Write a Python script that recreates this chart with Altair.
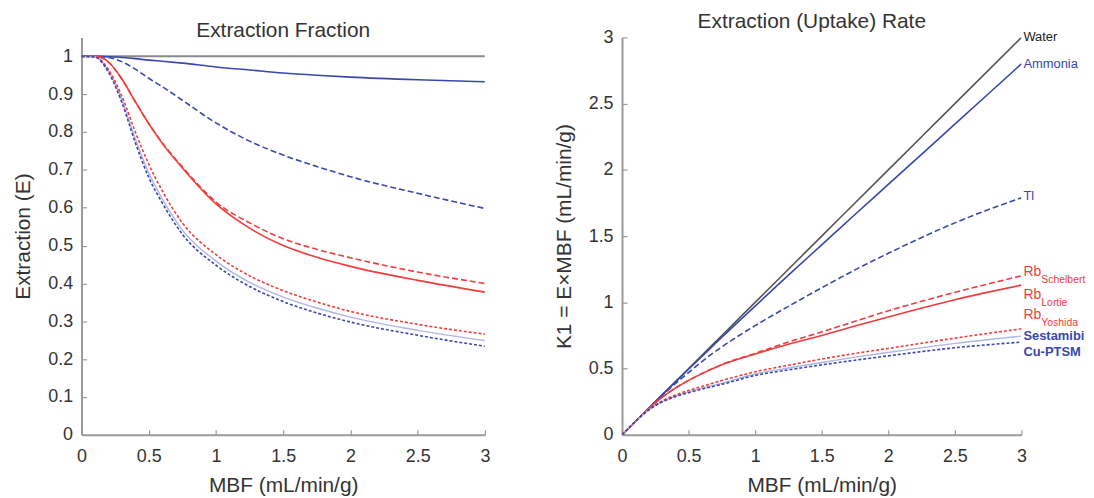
import altair as alt
import pandas as pd

# ---------------- data ----------------
MBF = [0, 0.1, 0.2, 0.3, 0.4, 0.5, 0.6, 0.75, 1.0, 1.25, 1.5, 1.75, 2.0, 2.5, 3.0]

# Extraction fraction E (left panel)
E_water = [1.0, 1.0, 1.0, 1.0, 1.0, 1.0, 1.0, 1.0, 1.0, 1.0, 1.0, 1.0, 1.0, 1.0, 1.0]
E_ammonia = [1.0, 1.0, 0.999, 0.997, 0.994, 0.99, 0.987, 0.982, 0.972, 0.964, 0.956, 0.95, 0.945, 0.938, 0.933]
E_tl = [1.0, 1.0, 0.997, 0.986, 0.966, 0.942, 0.92, 0.884, 0.824, 0.776, 0.739, 0.709, 0.682, 0.638, 0.598]
E_schelbert = [1.0, 1.0, 0.985, 0.94, 0.88, 0.822, 0.772, 0.708, 0.615, 0.56, 0.518, 0.49, 0.468, 0.43, 0.40]
E_lortie = [1.0, 1.0, 0.985, 0.94, 0.88, 0.822, 0.77, 0.705, 0.61, 0.546, 0.5, 0.469, 0.445, 0.408, 0.377]
E_yoshida = [1.0, 0.999, 0.965, 0.895, 0.80, 0.715, 0.645, 0.56, 0.476, 0.42, 0.381, 0.351, 0.326, 0.292, 0.266]
E_sestamibi = [1.0, 0.999, 0.962, 0.885, 0.782, 0.692, 0.624, 0.541, 0.459, 0.403, 0.364, 0.335, 0.311, 0.276, 0.249]
E_cuptsm = [1.0, 0.998, 0.958, 0.878, 0.772, 0.68, 0.613, 0.53, 0.448, 0.392, 0.352, 0.322, 0.298, 0.263, 0.234]

# Uptake rate K1 (right panel)
K_water = [0, 0.1, 0.2, 0.3, 0.4, 0.5, 0.6, 0.75, 1.0, 1.25, 1.5, 1.75, 2.0, 2.5, 3.0]
K_ammonia = [0, 0.1, 0.2, 0.3, 0.398, 0.495, 0.592, 0.737, 0.972, 1.205, 1.434, 1.663, 1.89, 2.345, 2.8]
K_tl = [0, 0.1, 0.199, 0.296, 0.386, 0.47, 0.553, 0.664, 0.824, 0.97, 1.11, 1.245, 1.37, 1.6, 1.79]
K_schelbert = [0, 0.1, 0.197, 0.282, 0.352, 0.411, 0.463, 0.531, 0.615, 0.7, 0.777, 0.857, 0.936, 1.075, 1.2]
K_lortie = [0, 0.1, 0.197, 0.282, 0.352, 0.411, 0.462, 0.529, 0.61, 0.683, 0.75, 0.821, 0.89, 1.02, 1.13]
K_yoshida = [0, 0.1, 0.19, 0.255, 0.30, 0.335, 0.365, 0.41, 0.476, 0.525, 0.572, 0.614, 0.652, 0.73, 0.80]
K_sestamibi = [0, 0.1, 0.188, 0.25, 0.292, 0.324, 0.352, 0.39, 0.459, 0.504, 0.546, 0.586, 0.622, 0.69, 0.745]
K_cuptsm = [0, 0.1, 0.187, 0.247, 0.288, 0.318, 0.345, 0.381, 0.448, 0.49, 0.528, 0.563, 0.596, 0.657, 0.70]

X_TICKS = [0, 0.5, 1, 1.5, 2, 2.5, 3]
E_TICKS = [0, 0.1, 0.2, 0.3, 0.4, 0.5, 0.6, 0.7, 0.8, 0.9, 1.0]
K_TICKS = [0, 0.5, 1, 1.5, 2, 2.5, 3]

# labels at the right end of the right panel
LABELS = ["Water", "Ammonia", "Tl", "Rb", "Rb", "Rb", "Sestamibi", "Cu-PTSM"]
LABEL_Y = [3.0, 2.8, 1.8, 1.23, 1.055, 0.905, 0.742, 0.628]
SUBS = ["Schelbert", "Lortie", "Yoshida"]
SUB_Y = [1.23, 1.055, 0.905]

# ---------------- styles ----------------
FONT = "Liberation Sans"
BLUE = "#3a47ad"
RED = "#f03c3c"
LIGHTBLUE = "#aeb6e6"
GRAY = "#8a8a8a"
TXT = "#333333"

STYLES = {
    "Water": dict(color=GRAY, strokeWidth=2.0),
    "Ammonia": dict(color=BLUE, strokeWidth=1.6),
    "Tl": dict(color=BLUE, strokeWidth=1.6, strokeDash=[6, 3]),
    "Schelbert": dict(color=RED, strokeWidth=1.6, strokeDash=[6, 3]),
    "Lortie": dict(color=RED, strokeWidth=1.6),
    "Yoshida": dict(color=RED, strokeWidth=1.6, strokeDash=[3, 2]),
    "Sestamibi": dict(color=LIGHTBLUE, strokeWidth=1.4),
    "Cu-PTSM": dict(color=BLUE, strokeWidth=1.6, strokeDash=[3, 2]),
}

LEFT_SERIES = {
    "Water": E_water, "Ammonia": E_ammonia, "Tl": E_tl, "Schelbert": E_schelbert,
    "Lortie": E_lortie, "Yoshida": E_yoshida, "Sestamibi": E_sestamibi, "Cu-PTSM": E_cuptsm,
}
RIGHT_SERIES = {
    "Water": K_water, "Ammonia": K_ammonia, "Tl": K_tl, "Schelbert": K_schelbert,
    "Lortie": K_lortie, "Yoshida": K_yoshida, "Sestamibi": K_sestamibi, "Cu-PTSM": K_cuptsm,
}

xscale = alt.Scale(domain=[0, 3], nice=False, zero=False)


def axis_common():
    return dict(
        labelFont=FONT, labelFontSize=18, labelColor=TXT, labelFlush=False,
        titleFont=FONT, titleFontSize=21, titleColor=TXT, titleFontWeight="normal",
        domainColor="#9a9a9a", domainWidth=2, tickColor="#9a9a9a", grid=False,
    )


def panel(series, yscale, yticks, ytitle, right_colors):
    df0 = pd.DataFrame({"MBF": MBF, "v": series["Water"]})
    base = alt.Chart(df0).mark_line(opacity=0)
    main_axes = base.encode(
        x=alt.X("MBF:Q", scale=xscale, axis=alt.Axis(
            orient="bottom", values=X_TICKS, format=".1~f", ticks=False,
            labelPadding=13, titlePadding=9, title="MBF (mL/min/g)", **axis_common())),
        y=alt.Y("v:Q", scale=yscale, axis=alt.Axis(
            orient="left", values=yticks, format=".1~f", ticks=False,
            labelPadding=9, titlePadding=14, title=ytitle, **axis_common())),
    )
    tick_axes = base.encode(
        x=alt.X("MBF:Q", scale=xscale, axis=alt.Axis(
            orient="bottom", values=X_TICKS, ticks=True, tickSize=5, tickWidth=1.2,
            offset=-5, domain=False, labels=False, title="", grid=False, tickColor="#9a9a9a")),
        y=alt.Y("v:Q", scale=yscale, axis=alt.Axis(
            orient="left", values=yticks, ticks=True, tickSize=5, tickWidth=1.2,
            offset=-5, domain=False, labels=False, title="", grid=False, tickColor="#9a9a9a")),
    )
    layers = [main_axes, tick_axes]
    order = ["Water", "Ammonia", "Tl", "Schelbert", "Lortie", "Sestamibi", "Yoshida", "Cu-PTSM"]
    for name in order:
        st = dict(STYLES[name])
        if right_colors and name == "Water":
            st["color"] = "#555555"
            st["strokeWidth"] = 1.6
        df = pd.DataFrame({"MBF": MBF, "v": series[name]})
        layers.append(
            alt.Chart(df).mark_line(interpolate="monotone", clip=True, **st).encode(
                x=alt.X("MBF:Q", scale=xscale, axis=None),
                y=alt.Y("v:Q", scale=yscale, axis=None),
            )
        )
    return layers


left_layers = panel(LEFT_SERIES, alt.Scale(domain=[0, 1.05], nice=False), E_TICKS,
                    "Extraction (E)", False)
right_layers = panel(RIGHT_SERIES, alt.Scale(domain=[0, 3], nice=False), K_TICKS,
                     "K1 = E×MBF (mL/min/g)", True)

# right-end labels
lab_colors = ["#222222", BLUE, BLUE, RED, RED, RED, BLUE, BLUE]
lab_sizes = [13, 13, 13, 14, 14, 14, 13, 13]
lab_weights = ["normal", "normal", "normal", "normal", "normal", "normal", "bold", "bold"]
kscale = alt.Scale(domain=[0, 3], nice=False)
for i, txt in enumerate(LABELS):
    d = pd.DataFrame({"MBF": [3.0], "v": [LABEL_Y[i]], "t": [txt]})
    right_layers.append(
        alt.Chart(d).mark_text(align="left", baseline="middle", dx=2, font=FONT,
                               fontSize=lab_sizes[i], fontWeight=lab_weights[i],
                               color=lab_colors[i]).encode(
            x=alt.X("MBF:Q", scale=xscale, axis=None),
            y=alt.Y("v:Q", scale=kscale, axis=None),
            text="t:N",
        )
    )
for i, txt in enumerate(SUBS):
    d = pd.DataFrame({"MBF": [3.0], "v": [SUB_Y[i]], "t": [txt]})
    right_layers.append(
        alt.Chart(d).mark_text(align="left", baseline="middle", dx=20, dy=8, font=FONT,
                               fontSize=10.5, color=RED).encode(
            x=alt.X("MBF:Q", scale=xscale, axis=None),
            y=alt.Y("v:Q", scale=kscale, axis=None),
            text="t:N",
        )
    )

title_style = dict(font=FONT, fontSize=21, fontWeight="normal", color=TXT, anchor="middle", offset=-4)

left = alt.layer(*left_layers).resolve_axis(x="independent", y="independent").properties(
    width=406, height=400, title=alt.TitleParams("Extraction Fraction", **title_style))
right = alt.layer(*right_layers).resolve_axis(x="independent", y="independent").properties(
    width=402, height=400, title=alt.TitleParams("Extraction (Uptake) Rate", dx=-10, **title_style))

chart = alt.hconcat(left, right, spacing=62).properties(
    padding={"left": 4, "top": 2, "right": 0, "bottom": 0},
    background="white",
).configure_view(stroke=None)

chart.save("out.html", embed_options={"renderer": "svg", "actions": False})
